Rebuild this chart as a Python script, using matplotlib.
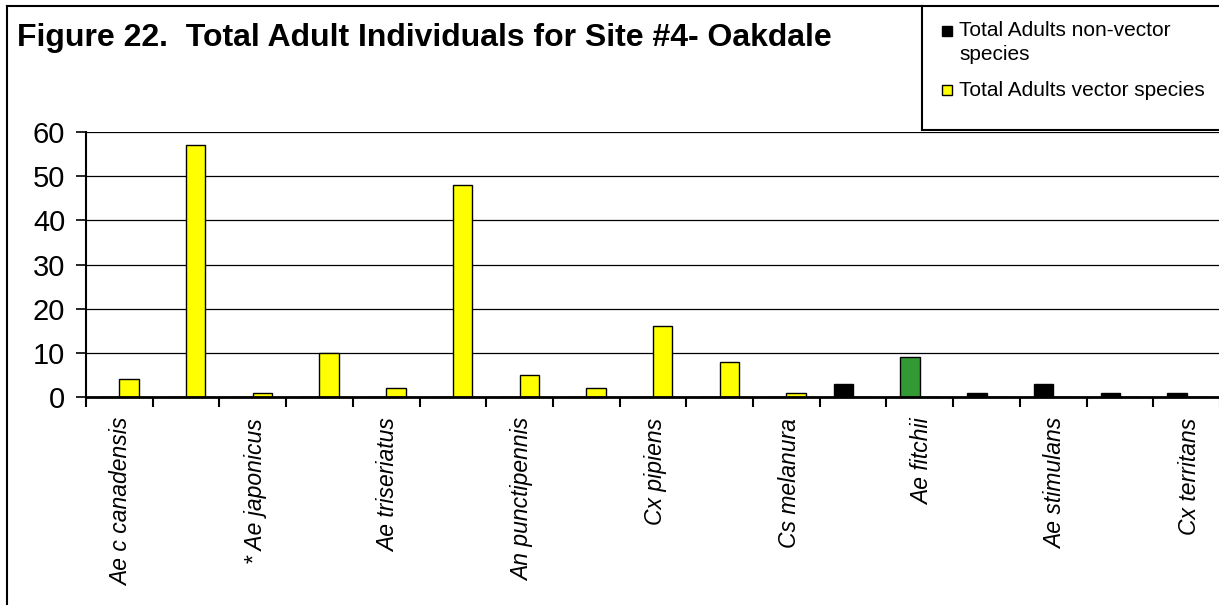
import numpy as np
import matplotlib.pyplot as plt
from matplotlib.patches import Rectangle
from matplotlib.lines import Line2D

plt.rcParams['font.family'] = ['Liberation Sans', 'DejaVu Sans']

# 17 species, only every other one gets a visible label (as in the original)
n_species = 17
shown_labels = ['Ae c canadensis', '* Ae japonicus', 'Ae triseriatus',
                'An punctipennis', 'Cx pipiens', 'Cs melanura',
                'Ae fitchii', 'Ae stimulans', 'Cx territans']
non_vector = [0, 0, 0, 0, 0, 0, 0, 0, 0, 0, 0, 3, 9, 1, 3, 1, 1]
vector = [4, 57, 1, 10, 2, 48, 5, 2, 16, 8, 1, 0, 0, 0, 0, 0, 0]
non_vector_colors = ['black'] * 17
non_vector_colors[12] = '#339933'   # Ae fitchii drawn in green

W, H = 1219, 605
fig = plt.figure(figsize=(W / 100, H / 100), dpi=100)

def fx(px):
    return px / W

def fy(py):
    return 1 - py / H

ax = fig.add_axes([fx(86), fy(397), fx(1220) - fx(86), fy(132) - fy(397)])

x = np.arange(n_species)
bw = 0.29
ax.bar(x - bw / 2, non_vector, bw, color=non_vector_colors, edgecolor='black', linewidth=1)
ax.bar(x + bw / 2, vector, bw, color='#ffff00', edgecolor='black', linewidth=1)

ax.set_xlim(-0.5, n_species - 0.5)
ax.set_ylim(0, 60)
ax.set_yticks(np.arange(0, 61, 10))
ax.yaxis.grid(True, color='black', linewidth=0.9)
ax.set_axisbelow(True)

ax.set_xticks(x[::2] + 0.04)
ax.set_xticklabels(shown_labels, rotation=90, fontstyle='italic', fontsize=16.5)
ax.set_xticks(np.arange(-0.5, n_species, 1), minor=True)
ax.tick_params(axis='x', which='major', length=0, pad=15)
ax.tick_params(axis='x', which='minor', length=7, width=1.5, direction='out')
ax.tick_params(axis='y', length=7, width=1.2, labelsize=21, pad=8)

for s in ['top', 'right']:
    ax.spines[s].set_visible(False)
ax.spines['left'].set_linewidth(1.5)
ax.spines['bottom'].set_linewidth(2)

# outer chart border and legend box
fig.add_artist(Line2D([fx(7), fx(7)], [fy(6), 0], color='black', lw=1.5))
fig.add_artist(Line2D([fx(7), 1], [fy(6), fy(6)], color='black', lw=1.5))
fig.add_artist(Line2D([fx(922), fx(922)], [fy(6), fy(130)], color='black', lw=1.5))
fig.add_artist(Line2D([fx(922), 1], [fy(130), fy(130)], color='black', lw=1.5))

fig.text(fx(17), fy(38), 'Figure 22.  Total Adult Individuals for Site #4- Oakdale',
         fontsize=23, fontweight='bold', va='center', ha='left')

# legend
fig.add_artist(Rectangle((fx(942), fy(36)), fx(10), fy(26) - fy(36), facecolor='black',
                         edgecolor='black', lw=1, transform=fig.transFigure))
fig.add_artist(Rectangle((fx(942), fy(95)), fx(10), fy(85) - fy(95), facecolor='#ffff00',
                         edgecolor='black', lw=1, transform=fig.transFigure))
fig.text(fx(959), fy(31), 'Total Adults non-vector', fontsize=15, va='center')
fig.text(fx(959), fy(54), 'species', fontsize=15, va='center')
fig.text(fx(959), fy(91), 'Total Adults vector species', fontsize=15, va='center')

fig.savefig('out.png', dpi=100)
